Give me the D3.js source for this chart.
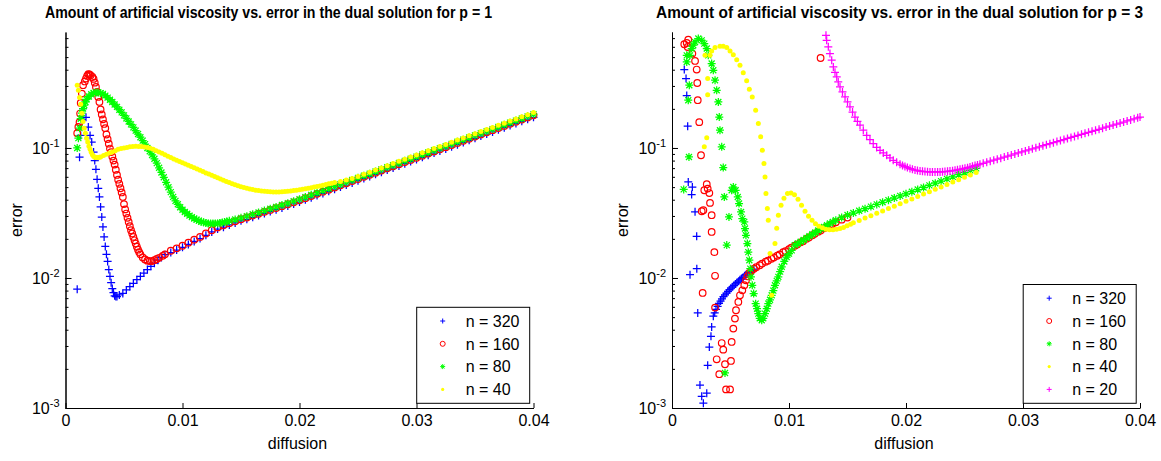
<!DOCTYPE html>
<html>
<head>
<meta charset="utf-8">
<script src="https://cdnjs.cloudflare.com/ajax/libs/d3/7.8.5/d3.min.js"></script>
<style>
  body { margin: 0; background: #fff; }
  svg text { font-family: "Liberation Sans", Arial, sans-serif; fill: #000; }
</style>
</head>
<body>
<svg id="chart" width="1161" height="461"></svg>
<script>
// tick values / labels
const xTickVals = [0, 0.01, 0.02, 0.03, 0.04];
const xTickLabels = ["0", "0.01", "0.02", "0.03", "0.04"];
const yMajor = [1e-3, 1e-2, 1e-1];
const yMajorExp = ["-3", "-2", "-1"];
const titles = [
  "Amount of artificial viscosity vs. error in the dual solution for p = 1",
  "Amount of artificial viscosity vs. error in the dual solution for p = 3"
];
const seriesNames = ["n = 320", "n = 160", "n = 80", "n = 40", "n = 20"];

// ---- p = 1 : [diffusion, error] ----
const p1n320 = [[.001,.0082],[.0012,.085],[.0013,.125],[.0014,.165],[.0015,.201],[.00175,.172],[.00195,.145],[.0021,.125],[.00224,.111],[.0024,.093],[.0025,.08],[.0026,.0686],[.0027,.0574],[.0028,.049],[.0029,.042],[.003,.0352],[.0031,.0294],[.0032,.0247],[.0033,.0207],[.0034,.0175],[.0035,.0152],[.0036,.0134],[.0037,.0116],[.0038,.0103],[.0039,.0092],[.004,.0083],[.0041,.0077],[.0042,.0073],[.0043,.0072],[.0044,.0072],[.0046,.0074],[.0049,.0076],[.0052,.0081],[.0055,.0086],[.0058,.0091],[.0061,.0097],[.0064,.0103],[.0067,.0109],[.007,.0116],[.0073,.0123],[.0076,.013],[.0079,.0137],[.0082,.0144],[.0085,.0151],
  [.009,.0157],[.0095,.0164],[.01,.0172],[.0105,.0181],[.011,.0191],[.0115,.0201],[.012,.0213],[.0125,.0226],[.013,.0238],[.0135,.0246],[.014,.0256],[.0145,.0265],[.015,.0275],[.0155,.0283],[.016,.0293],[.0165,.0303],[.017,.0313],[.0175,.0324],[.018,.0335],[.0185,.0346],[.019,.0358],[.0195,.0371],[.02,.0384],[.0205,.0399],[.021,.0414],[.0215,.0431],[.022,.0447],[.0225,.0464],[.023,.0482],[.0235,.0501],[.024,.0519],[.0245,.0539],[.025,.056],[.0255,.0582],[.026,.0603],[.0265,.0627],[.027,.0651],[.0275,.0676],[.028,.0701],[.0285,.0728],[.029,.0757],[.0295,.0786],[.03,.0816],[.0305,.0847],[.031,.0879],[.0315,.0913],[.032,.0948],[.0325,.0984],[.033,.1022],[.0335,.1061],[.034,.1102],[.0345,.1145],[.035,.1188],[.0355,.1234],[.036,.128],[.0365,.1329],[.037,.138],[.0375,.1434],[.038,.1489],[.0385,.1545],[.039,.1604],[.0395,.1666],[.04,.172]];

const p1n160 = [[.001,.13],[.0011,.145],[.0012,.158],[.00125,.184],[.0013,.222],[.0014,.262],[.0015,.304],[.00165,.325],[.00175,.342],[.00185,.358],[.00195,.369],[.00205,.368],[.00215,.362],[.0023,.352],[.0024,.34],[.0025,.318],[.0026,.295],[.0027,.27],[.0028,.247],[.0029,.226],[.003,.198],[.0031,.181],[.0032,.166],[.0033,.153],[.0034,.142],[.0035,.127],[.0036,.117],[.0037,.108],[.0038,.099],[.0039,.093],[.004,.086],[.0041,.08],[.0042,.0745],[.0043,.068],[.0044,.062],[.0045,.057],[.0046,.053],[.0047,.049],[.0048,.0455],[.0049,.042],[.005,.037],[.0051,.0337],[.0052,.0313],[.0053,.029],[.0054,.027],[.0055,.025],[.0056,.0233],[.0057,.022],[.0058,.0207],[.0059,.0195],[.006,.0184],[.0061,.0174],[.0062,.0165],[.0063,.0158],[.0064,.0152],[.0066,.0144],[.0068,.0139],[.007,.0136],[.0072,.0135],[.0074,.0135],[.0076,.0137],[.0078,.014],[.008,.0143],[.0083,.0148],[.0085,.0152],
  [.009,.0162],[.0095,.0169],[.01,.0177],[.0105,.0187],[.011,.0197],[.0115,.0207],[.012,.022],[.0125,.0233],[.013,.0245],[.0135,.0254],[.014,.0264],[.0145,.0273],[.015,.0283],[.0155,.0292],[.016,.0302],[.0165,.0312],[.017,.0323],[.0175,.0334],[.018,.0345],[.0185,.0357],[.019,.0369],[.0195,.0382],[.02,.0396],[.0205,.0411],[.021,.0427],[.0215,.0444],[.022,.0461],[.0225,.0478],[.023,.0497],[.0235,.0516],[.024,.0535],[.0245,.0556],[.025,.0577],[.0255,.06],[.026,.0622],[.0265,.0646],[.027,.0671],[.0275,.0697],[.028,.0723],[.0285,.0751],[.029,.078],[.0295,.081],[.03,.0841],[.0305,.0873],[.031,.0906],[.0315,.0941],[.032,.0977],[.0325,.1014],[.033,.1054],[.0335,.1094],[.034,.1136],[.0345,.118],[.035,.1225],[.0355,.1272],[.036,.132],[.0365,.137],[.037,.1423],[.0375,.1478],[.038,.1535],[.0385,.1593],[.039,.1654],[.0395,.1718],[.04,.1784]];

const p1n80 = [[.001,.1],[.0011,.119],[.0012,.142],[.0013,.168],[.0014,.185],[.0015,.201],[.0016,.214],[.0017,.226],[.0018,.237],[.002,.249],[.0022,.259],[.0024,.265],[.0026,.267],[.0028,.267],[.003,.264],[.0032,.26],[.0034,.253],[.0036,.244],[.0038,.235],[.004,.226],[.0042,.216],[.0044,.207],[.0046,.197],[.0048,.188],[.005,.178],[.0052,.169],[.0054,.16],[.0056,.152],[.0058,.144],[.006,.136],[.0062,.128],[.0064,.121],[.0066,.114],[.0068,.107],[.007,.1],[.0072,.0944],[.0074,.0884],[.0076,.0826],[.0078,.0764],[.008,.0704],[.0082,.0648],[.0084,.0595],[.0086,.0545],[.0088,.0499],[.009,.0458],[.0092,.0421],[.0094,.0392],[.0096,.0369],[.0098,.035],[.01,.0335],[.0102,.0322],[.0104,.0312],[.0106,.0302],[.0108,.0294],[.011,.0287],[.0112,.0281],[.0114,.0276],[.0116,.0271],[.0118,.0268],[.012,.0265],[.0122,.0263],[.0124,.0262],[.0126,.0262],[.0128,.0262],[.013,.0263],[.0132,.0265],[.0134,.0267],[.0136,.0269],[.0138,.0272],[.014,.0275],
  [.0145,.0282],[.015,.029],[.0155,.0299],[.016,.0309],[.0165,.0319],[.017,.033],[.0175,.0341],[.018,.0352],[.0185,.0364],[.019,.0376],[.0195,.039],[.02,.0404],[.0205,.0419],[.021,.0436],[.0215,.0453],[.022,.047],[.0225,.0488],[.023,.0507],[.0235,.0526],[.024,.0546],[.0245,.0567],[.025,.0589],[.0255,.0612],[.026,.0634],[.0265,.0659],[.027,.0684],[.0275,.0711],[.028,.0737],[.0285,.0766],[.029,.0796],[.0295,.0826],[.03,.0858],[.0305,.089],[.031,.0924],[.0315,.096],[.032,.0997],[.0325,.1034],[.033,.1075],[.0335,.1116],[.034,.1159],[.0345,.1204],[.035,.125],[.0355,.1297],[.036,.1346],[.0365,.1397],[.037,.1451],[.0375,.1508],[.038,.1566],[.0385,.1625],[.039,.1687],[.0395,.1752],[.04,.182]];

const p1n40 = [[.001,.304],[.0011,.278],[.0012,.245],[.0013,.217],[.0014,.185],[.0015,.16],[.0016,.142],[.0017,.13],[.0018,.119],[.0019,.111],[.002,.103],[.0021,.0977],[.0022,.0927],[.0023,.0887],[.0024,.0863],[.0025,.085],[.0026,.0844],[.0027,.0842],[.0028,.0844],[.0029,.0848],[.003,.0853],[.00325,.0874],[.0035,.0895],[.00375,.0913],[.004,.0931],[.00425,.0954],[.0045,.0977],[.00475,.0989],[.005,.1],[.00525,.101],[.0055,.102],[.00575,.1025],[.006,.103],[.00625,.1028],[.0065,.1025],[.00675,.1018],[.007,.101],[.00725,.0994],[.0075,.0977],[.00775,.0954],[.008,.0931],[.00825,.0909],[.0085,.0887],[.00875,.0865],[.009,.0844],[.00925,.0824],[.0095,.0804],[.00975,.0786],[.01,.0769],[.01025,.0752],[.0105,.0736],[.01075,.072],[.011,.0704],[.01125,.0689],[.0115,.0674],[.01175,.0658],[.012,.0642],[.01225,.063],[.0125,.0617],[.01275,.0603],[.013,.059],[.01325,.0577],[.0135,.0565],[.01375,.0553],[.014,.0542],[.01425,.0531],[.0145,.0521],[.01475,.0512],[.015,.0503],[.01525,.0496],[.0155,.049],[.01575,.0484],[.016,.0479],[.01625,.0474],[.0165,.047],[.01675,.0467],[.017,.0464],[.01725,.0462],[.0175,.046],[.01775,.0459],[.018,.0459],[.01825,.0459],[.0185,.046],[.01875,.0462],[.019,.0464],[.01925,.0467],[.0195,.047],[.01975,.0473],[.02,.0477],[.02025,.0481],[.0205,.0485],[.02075,.049],[.021,.0494],[.02125,.05],[.0215,.0505],[.02175,.051],[.022,.0516],[.02225,.0523],[.0225,.053],[.02275,.0536],[.023,.0542],
  [.0235,.0553],[.024,.0566],[.0245,.0582],[.025,.0603],[.0255,.0627],[.026,.065],[.0265,.0677],[.027,.0703],[.0275,.0731],[.028,.0759],[.0285,.0789],[.029,.082],[.0295,.0851],[.03,.0884],[.0305,.0917],[.031,.0952],[.0315,.0989],[.032,.1027],[.0325,.1065],[.033,.1107],[.0335,.115],[.034,.1194],[.0345,.124],[.035,.1288],[.0355,.1336],[.036,.1386],[.0365,.1439],[.037,.1495],[.0375,.1553],[.038,.1613],[.0385,.1674],[.039,.1738],[.0395,.1805],[.04,.1875]];

// ---- p = 3 ----
const p3n320 = [[.00105,.401],[.0012,.342],[.00126,.253],[.00134,.147],[.00139,.0548],[.00154,.0106],[.00168,.0438],[.00174,.0501],[.00197,.0323],[.00211,.0209],[.00212,.0118],[.0022,.00538],[.00239,.0015],[.00254,.00123],[.00268,.00109],[.00297,.0013],[.00305,.00213],[.00319,.00294],[.00333,.00356],[.00339,.0042],[.00353,.00508],[.00365,.0054],[.00376,.00574],[.0039,.00605],[.00402,.00639],[.00415,.00665],[.00427,.00692],[.0044,.00718],[.00453,.00743],[.00466,.00766],[.00479,.0079],[.00492,.00812],[.00504,.00834],[.00517,.00856],[.0053,.00879],[.00543,.009],[.00556,.00923],[.00569,.00945],[.00581,.00968],[.00594,.0099],[.00607,.0101],[.0062,.0104],[.00632,.0106],[.00645,.0108],[.00658,.01106],[.00671,.01126],[.00684,.01146],[.007,.0117]];

const p3n160 = [[.00105,.628],[.00126,.642],[.00139,.682],[.00134,.598],[.00174,.532],[.00197,.467],[.00211,.401],[.00216,.316],[.0022,.233],[.00233,.158],[.00248,.0879],[.00297,.0526],[.00305,.0487],[.00276,.0473],[.00319,.045],[.00325,.0378],[.00268,.0332],[.00254,.0326],[.00339,.0304],[.00339,.0226],[.00362,.0158],[.00368,.0104],[.00262,.00767],[.00368,.00592],[.00425,.00316],[.00438,.00281],[.00382,.00237],[.00453,.00217],[.00504,.0023],[.0051,.00322],[.00524,.00408],[.00538,.00487],[.00547,.00565],[.00567,.00654],[.00581,.00736],[.00601,.00804],[.00618,.00879],[.00632,.0096],[.00645,.0103],[.0066,.0109],[.00404,.00182],[.00462,.00139],[.00496,.00139],
  [.0068,.0114],[.007,.01178],[.0072,.0121],[.0075,.01253],[.0077,.0129],[.008,.01333],[.0082,.0136],[.0085,.01406],[.0087,.0144],[.009,.01483],[.0092,.0152],[.0095,.01577],[.0097,.0161],[.01,.01663],[.0102,.0171],[.0105,.0177],[.0107,.0181],[.011,.0188],[.0112,.0192],[.0115,.02],[.0117,.0205],[.012,.0213],[.0122,.0219],[.0125,.0227],[.0127,.0232],[.013,.0241],[.0132,.0246],[.0135,.0254],[.0137,.026],[.014,.0268],[.0145,.0281],[.015,.0292],[.0127,.492]];

const p3n80 = [[.001,.048],[.00126,.516],[.00126,.459],[.00139,.233],[.00148,.304],[.00145,.0853],[.00154,.516],[.00168,.582],[.00182,.617],[.00197,.654],[.00225,.695],[.00254,.673],[.00276,.635],[.00297,.582],[.0031,.516],[.00339,.446],[.00353,.396],[.00368,.332],[.00382,.278],[.00396,.226],[.00404,.173],[.0041,.137],[.00425,.102],[.00438,.0707],[.00447,.042],[.00468,.0179],[.00453,.00186],[.00487,.0295],[.0051,.0473],[.00524,.0501],[.00544,.0473],[.00562,.042],[.00573,.0374],[.0059,.0322],[.00601,.0286],[.00618,.027],[.00624,.024],[.00632,.0213],[.00644,.0184],[.00652,.0158],[.00661,.0137],[.00669,.0118],[.00675,.0102],[.00686,.00879],[.00698,.00759],[.00715,.00635],[.00727,.0058],[.00738,.00532],[.0075,.0049],[.00767,.00473],[.0078,.0049],[.00795,.00532],[.0081,.0058],[.00823,.00635],[.00838,.0068],[.00852,.00736],[.00866,.0080],[.0088,.00879],[.00895,.0095],[.00909,.0102],[.00924,.0112],[.00938,.0122],[.0096,.0134],[.0098,.0145],[.01,.0154],[.01023,.0163],[.0105,.0179],[.01075,.0184],[.011,.019],[.01125,.0196],[.0115,.0203],[.01175,.021],[.012,.0217],[.01225,.0224],[.0125,.0232],[.01275,.0239],[.013,.0247],[.01325,.0255],[.0135,.0263],[.01375,.027],[.014,.0278],[.0145,.0292],
  [.015,.0305],[.0155,.0316],[.016,.0329],[.0165,.0341],[.017,.0354],[.0175,.0368],[.018,.0382],[.0185,.0397],[.019,.0412],[.0195,.0428],[.02,.0444],[.0205,.0461],[.021,.0479],[.0215,.0497],[.022,.0516],[.0225,.0536],[.023,.0556],[.0235,.0578],[.024,.06],[.0245,.0623],[.025,.0647],[.0255,.0672],[.026,.0697]];

const p3n40 = [[.00282,.517],[.00305,.342],[.00305,.257],[.00297,.12],[.00276,.102],
  [.00325,.517],[.00339,.557],[.00368,.592],[.0041,.606],[.00438,.606],[.00468,.592],[.00496,.557],[.00524,.521],[.00553,.477],[.00581,.433],[.00609,.379],[.00638,.329],[.00661,.283],[.00686,.247],[.00715,.195],[.00738,.154],[.00758,.122],[.00772,.096],[.00786,.0759],[.00795,.0598],[.00803,.0446],[.00815,.0342],[.00823,.0278],[.00838,.0154],[.00852,.00736],[.0088,.0184],[.00895,.0241],[.00909,.0304],[.00932,.0362],[.00957,.041],[.00987,.0446],[.01017,.045],[.01047,.0436],[.01077,.0403],[.01107,.0362],[.01137,.0326],[.01167,.0298],[.01197,.0278],[.01226,.0261],[.01256,.025],[.01286,.0243],[.01316,.0237],[.01346,.0235],[.01376,.0235],[.01406,.0237],[.01436,.024],[.01466,.0245],[.01496,.0252],[.01526,.0259],
  [.0155,.0266],[.016,.0277],[.0165,.0289],[.017,.0301],[.0175,.0315],[.018,.0328],[.0185,.0343],[.019,.0357],[.0195,.0373],[.02,.0389],[.0205,.0406],[.021,.0424],[.0215,.0442],[.022,.0461],[.0225,.0481],[.023,.0502],[.0235,.0524],[.024,.0547],[.0245,.057],[.025,.0595],[.0255,.0621],[.026,.0648]];

const p3n20 = [[.01316,.736],[.01322,.673],[.01336,.6],[.0135,.532],[.01365,.473],[.01379,.42],[.01393,.382],[.01408,.352],[.01421,.322],[.01436,.295],[.01457,.27],[.01479,.247],[.015,.226],[.01521,.207],[.01543,.189],[.01564,.173],[.01585,.16],[.01607,.15],[.01635,.137],[.01664,.125],[.01692,.116],[.0172,.108],[.01749,.101],[.01778,.096],[.01806,.0916],[.01835,.0879],[.01863,.0839],[.01891,.0804],[.0192,.0776],[.01949,.075],[.0197,.0734],[.01991,.0719],[.02012,.0707],[.02034,.0695],[.02055,.0686],[.02077,.0677],[.02098,.0671],[.0212,.0665],[.02141,.0661],[.02162,.0658],[.02184,.0656],[.02205,.0654],[.02226,.0654],[.02248,.0654],[.0227,.0654],[.02291,.0654],[.02312,.0656],[.02333,.0659],[.02355,.0662],[.02376,.0665],[.02398,.0669],[.02419,.0674],[.0244,.068],[.02462,.0686],[.02483,.0692],[.02504,.0698],[.02526,.0706],[.02547,.0714],[.02568,.0723],[.0259,.0732],[.02611,.0741],[.02632,.075],[.0266,.0763],[.0269,.0777],[.0272,.0791],[.0275,.0806],[.0278,.082],[.0281,.0835],[.0284,.0851],[.0287,.0867],[.029,.0883],[.0293,.0899],[.0296,.0916],[.0299,.0932],[.0302,.095],[.0305,.0967],[.0308,.0985],[.0311,.1004],[.0314,.1022],[.0317,.1041],[.032,.106],[.0323,.1079],[.0326,.1099],[.0329,.112],[.0332,.114],[.0335,.1161],[.0338,.1183],[.0341,.1204],[.0344,.1226],[.0347,.1249],[.035,.1274],[.0353,.1297],[.0356,.1320],[.0359,.1344],[.0362,.1368],[.0365,.1393],[.0368,.1421],[.0371,.1448],[.0374,.1474],[.0377,.1501],[.038,.1528],[.0383,.1556],[.0386,.1584],[.0389,.1615],[.0392,.1645],[.0395,.1675],[.0398,.1708],[.04,.173]];

// marker look per series name
const styles = {
  "n = 320": { color: "#0000ff", marker: "plus" },
  "n = 160": { color: "#ff0000", marker: "circle" },
  "n = 80":  { color: "#00ff00", marker: "star" },
  "n = 40":  { color: "#ffff00", marker: "dot" },
  "n = 20":  { color: "#ff00ff", marker: "plus" }
};
const glyph = {
  plus: "M-4,0H4M0,-4V4",
  star: "M-4,0H4M0,-4V4M-3,-3L3,3M-3,3L3,-3",
  plusSmall: "M-2.5,0H2.5M0,-2.5V2.5",
  starSmall: "M-2.5,0H2.5M0,-2.5V2.5M-1.8,-1.8L1.8,1.8M-1.8,1.8L1.8,-1.8"
};

const panels = [
  { left: 65.5, title: titles[0], titleMid: 203, titleLen: 447, series: [p1n320, p1n160, p1n80, p1n40] },
  { left: 672,  title: titles[1], titleMid: 227.5, titleLen: 487, series: [p3n320, p3n160, p3n80, p3n40, p3n20] }
];

const svg = d3.select("#chart");
const plotW = 468, plotTop = 32, plotBottom = 408;

function drawMarkers(g, pts, st, x, y, small) {
  if (st.marker === "circle") {
    g.selectAll(null).data(pts).join("circle")
      .attr("cx", d => x(d[0])).attr("cy", d => y(d[1]))
      .attr("r", small ? 2.5 : 3.3).attr("fill", "none")
      .attr("stroke", st.color).attr("stroke-width", small ? 1 : 1.2);
  } else if (st.marker === "dot") {
    g.selectAll(null).data(pts).join("circle")
      .attr("cx", d => x(d[0])).attr("cy", d => y(d[1]))
      .attr("r", small ? 1.6 : 2.5).attr("fill", st.color);
  } else {
    g.selectAll(null).data(pts).join("path")
      .attr("transform", d => `translate(${x(d[0])},${y(d[1])})`)
      .attr("d", glyph[st.marker + (small ? "Small" : "")])
      .attr("fill", "none").attr("stroke", st.color).attr("stroke-width", small ? 1 : 1.25);
  }
}

panels.forEach(p => {
  const x = d3.scaleLinear().domain([0, 0.04]).range([p.left, p.left + plotW]);
  const y = d3.scaleLog().domain([1e-3, 0.78]).range([plotBottom, plotTop]);
  const g = svg.append("g");

  // series, first name drawn first
  p.series.forEach((pts, i) => {
    drawMarkers(g.append("g"), pts, styles[seriesNames[i]], x, y, false);
  });

  // y axis: minor then major ticks, pointing inwards
  const ya = g.append("g").attr("transform", `translate(${p.left},0)`);
  ya.call(d3.axisRight(y).tickValues(y.ticks()).tickSize(3).tickSizeOuter(0).tickFormat(""));
  ya.append("g").call(d3.axisRight(y).tickValues(yMajor).tickSize(6).tickSizeOuter(0).tickFormat(""));
  ya.selectAll("path,line").attr("stroke", "#000");

  yMajor.forEach((v, i) => {
    const t = g.append("text").attr("x", p.left - 6).attr("y", y(v)).attr("dy", "0.36em")
      .attr("text-anchor", "end").attr("font-size", 16);
    t.append("tspan").text("10");
    t.append("tspan").attr("dy", -7).attr("font-size", 11).text(yMajorExp[i]);
  });

  // x axis, ticks pointing up
  const xa = g.append("g").attr("transform", `translate(0,${plotBottom})`)
    .call(d3.axisBottom(x).tickValues(xTickVals).tickSize(-5).tickSizeOuter(0)
      .tickPadding(7).tickFormat((d, i) => xTickLabels[i]));
  xa.attr("font-size", 16).attr("font-family", null);
  xa.selectAll("path,line").attr("stroke", "#000");

  // labels
  g.append("text").attr("x", p.left + 232).attr("y", 449).attr("text-anchor", "middle")
    .attr("font-size", 16).text("diffusion");
  g.append("text").attr("transform", `translate(${p.left - 44},220) rotate(-90)`)
    .attr("text-anchor", "middle").attr("font-size", 16).text("error");
  g.append("text").attr("x", p.left + p.titleMid).attr("y", 18).attr("text-anchor", "middle")
    .attr("font-size", 16).attr("font-weight", "bold")
    .attr("textLength", p.titleLen).attr("lengthAdjust", "spacingAndGlyphs").text(p.title);

  // legend
  const n = p.series.length;
  const lh = 22.8, lw = 113, lx = p.left + 351.2;
  const lt = 403.3 - (n * lh + 4.8);
  const lg = g.append("g");
  lg.append("rect").attr("x", lx).attr("y", lt).attr("width", lw).attr("height", 403.3 - lt)
    .attr("fill", "#fff").attr("stroke", "#000").attr("stroke-width", 1);
  seriesNames.slice(0, n).forEach((name, i) => {
    const cy = lt + 13.7 + i * lh;
    const st = styles[name];
    const lx0 = d3.scaleLinear().domain([0, 1]).range([lx + 26, lx + 26]);
    const ly0 = d3.scaleLinear().domain([0, 1]).range([cy, cy]);
    drawMarkers(lg.append("g"), [[0, 0]], st, lx0, ly0, true);
    lg.append("text").attr("x", lx + 49).attr("y", cy).attr("dy", "0.36em")
      .attr("font-size", 16).text(name);
  });
});
</script>
</body>
</html>
